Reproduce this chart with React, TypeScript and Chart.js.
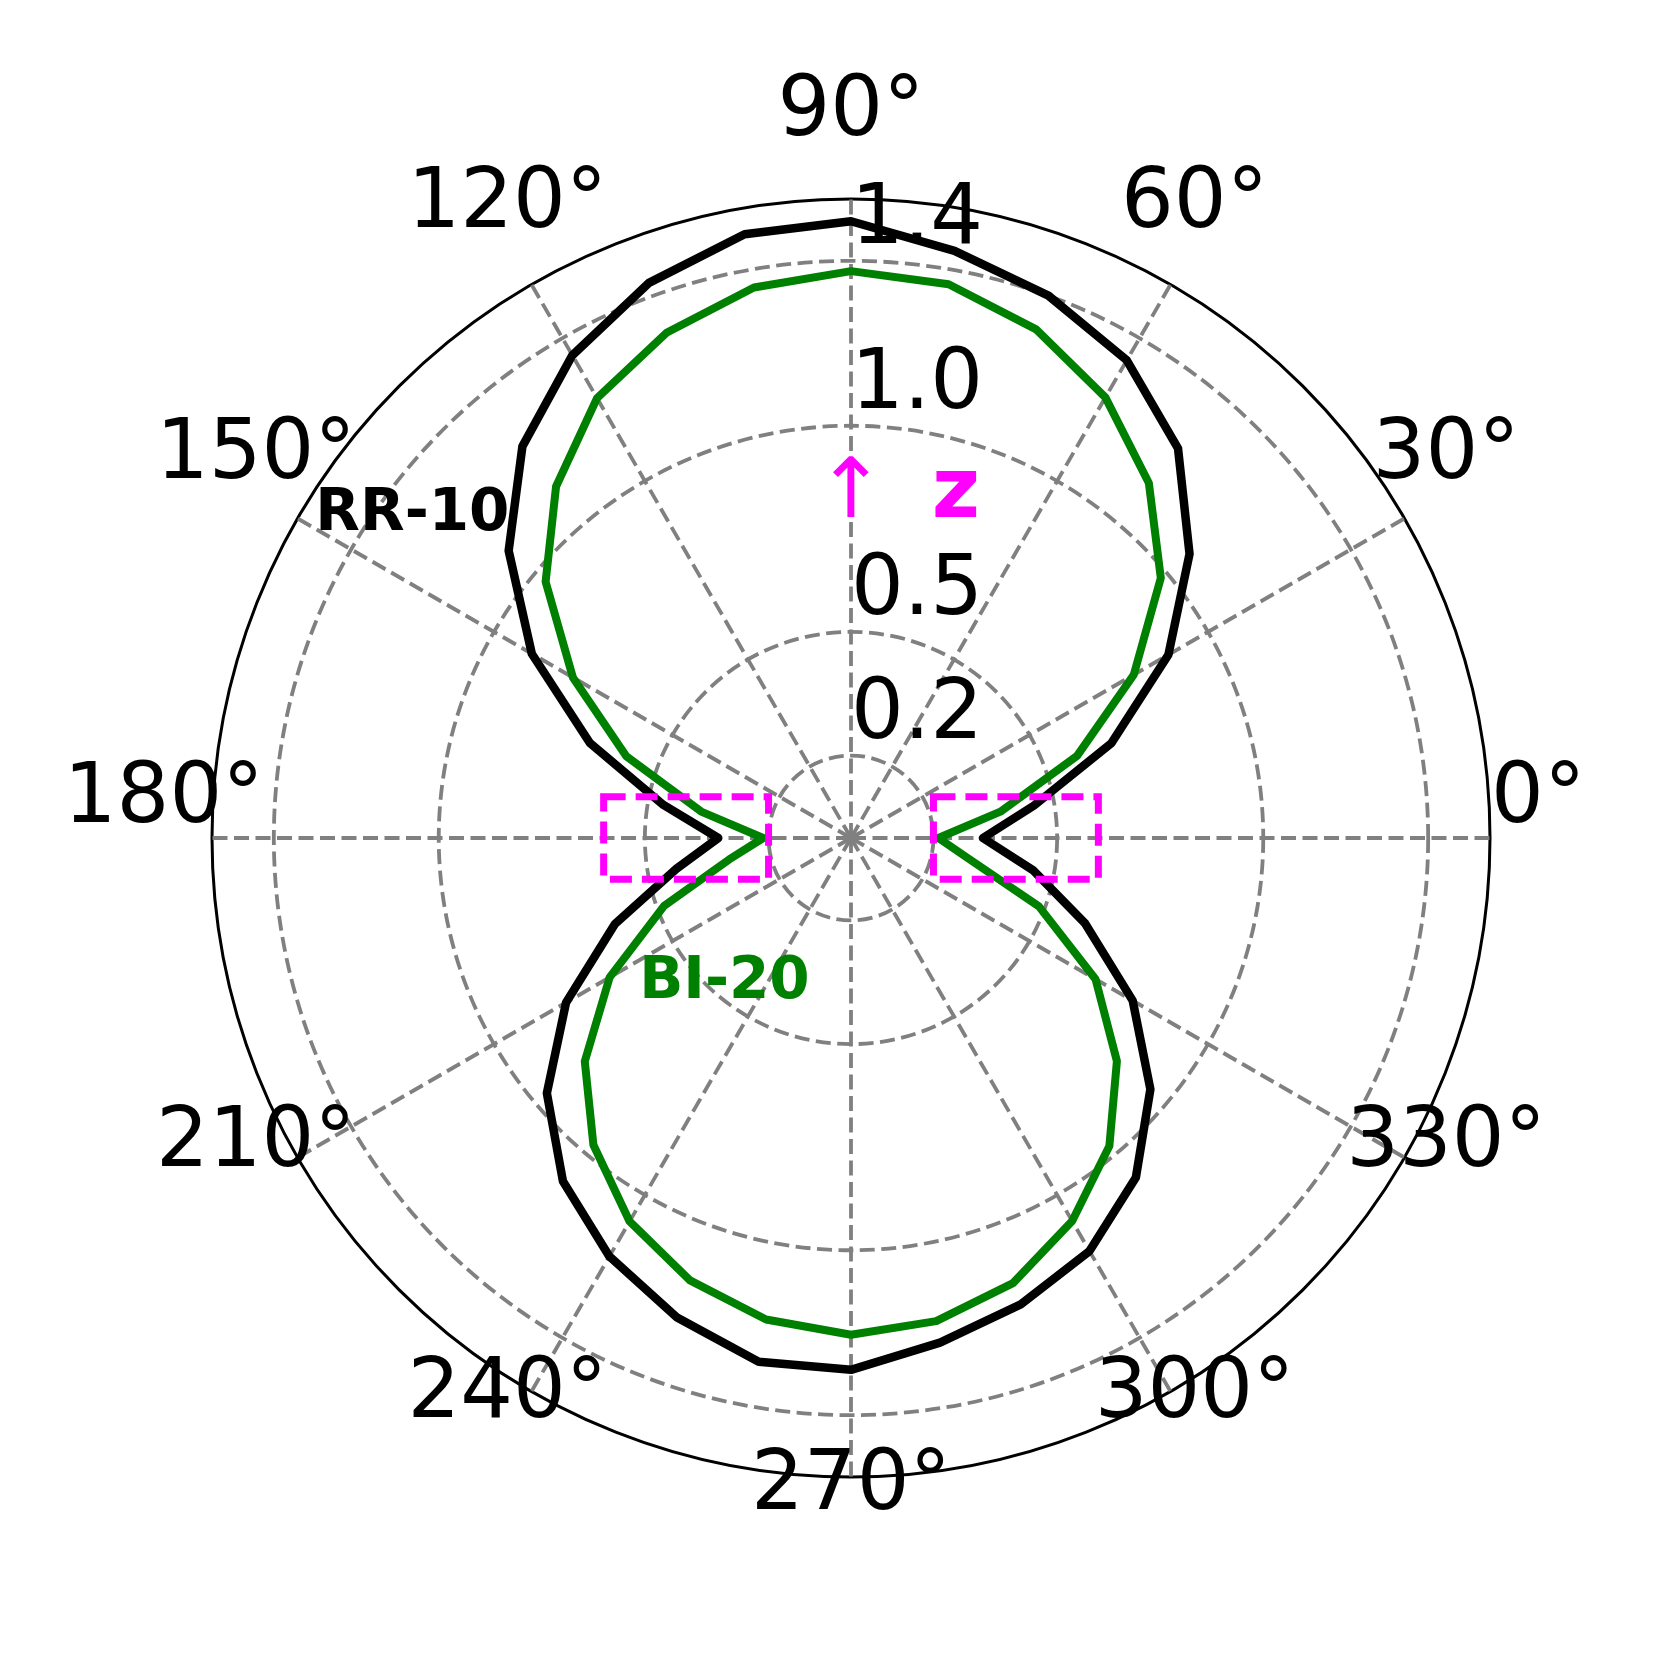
import React, { useEffect, useRef } from 'react';
import { Chart, registerables } from 'chart.js';

Chart.register(...registerables);

// Polar angles (degrees, counter-clockwise from the right) at which each series is sampled
const ANGLES = [0, 10, 20, 30, 40, 50, 60, 70, 80, 90, 100, 110, 120, 130, 140, 150, 160, 170,
  180, 190, 200, 210, 220, 230, 240, 250, 260, 270, 280, 290, 300, 310, 320, 330, 340, 350];

// RR-10 (black) radius per angle
const RR10 = [0.32, 0.45, 0.672, 0.889, 1.072, 1.234, 1.338, 1.4, 1.446, 1.496, 1.487, 1.433,
  1.352, 1.24, 1.084, 0.894, 0.674, 0.462, 0.322, 0.43, 0.609, 0.798, 0.963, 1.087,
  1.172, 1.237, 1.29, 1.29, 1.243, 1.204, 1.157, 1.075, 0.948, 0.789, 0.604, 0.448];

// BI-20 (green) radius per angle
const BI20 = [0.212, 0.368, 0.584, 0.792, 0.981, 1.124, 1.234, 1.313, 1.364, 1.375, 1.356, 1.305,
  1.232, 1.113, 0.967, 0.779, 0.58, 0.369, 0.213, 0.3, 0.483, 0.676, 0.843, 0.972,
  1.074, 1.142, 1.186, 1.205, 1.19, 1.149, 1.073, 0.975, 0.842, 0.685, 0.485, 0.29];

const RADIAL_TICKS = [0.2, 0.5, 1.0, 1.4];
const RADIAL_TICK_LABELS = ['0.2', '0.5', '1.0', '1.4'];
const R_MAX = 1.55;
const ANGLE_TICKS = [0, 30, 60, 90, 120, 150, 180, 210, 240, 270, 300, 330];
const ANGLE_TICK_LABELS = ANGLE_TICKS.map((a) => `${a}°`);

// Highlighted regions (cartesian, in radial units)
const BOX_X = [0.2, 0.6];
const BOX_Y = [-0.1, 0.1];

const GRAY = '#808080';
const GREEN = '#008000';
const MAGENTA = '#ff00ff';
const FONT = '"DejaVu Sans", "Liberation Sans", sans-serif';

// Radar goes clockwise starting at the top: index i -> angle 90 - 10 i
const ORDER = ANGLES.map((_, i) => (90 - 10 * i + 360) % 360);
const LABELS = ORDER.map((a) => String(a));
const pick = (arr: number[]) => ORDER.map((a) => arr[ANGLES.indexOf(a)]);

const overlayPlugin = {
  id: 'overlay',
  afterDraw(chart: any) {
    const s = chart.scales.r;
    const ctx = chart.ctx;
    const xc = s.xCenter;
    const yc = s.yCenter;
    const u = s.getDistanceFromCenterForValue(1);
    ctx.save();

    // magenta dashed boxes
    ctx.strokeStyle = MAGENTA;
    ctx.lineWidth = 7;
    ctx.setLineDash([22, 10]);
    [1, -1].forEach((side) => {
      const x0 = xc + side * BOX_X[0] * u;
      const x1 = xc + side * BOX_X[1] * u;
      const y0 = yc - BOX_Y[1] * u;
      const y1 = yc - BOX_Y[0] * u;
      ctx.strokeRect(Math.min(x0, x1), y0, Math.abs(x1 - x0), y1 - y0);
    });
    ctx.setLineDash([]);

    // radial tick labels
    ctx.fillStyle = '#000';
    ctx.font = `83px ${FONT}`;
    ctx.textAlign = 'left';
    ctx.textBaseline = 'alphabetic';
    RADIAL_TICKS.forEach((v, i) => {
      const d = s.getDistanceFromCenterForValue(v);
      ctx.fillText(RADIAL_TICK_LABELS[i], xc, yc - d - 18);
    });

    // angle labels
    ctx.textAlign = 'center';
    const lr = 1.667 * u;
    const lift = 0.112 * u;
    ANGLE_TICKS.forEach((a, i) => {
      const t = (a * Math.PI) / 180;
      const cx = xc + lr * Math.cos(t);
      const cy = yc - lr * Math.sin(t) - lift;
      ctx.fillText(ANGLE_TICK_LABELS[i], cx, cy + 0.3645 * 83);
    });

    // series annotations
    ctx.font = `bold 58px ${FONT}`;
    ctx.fillStyle = '#000';
    ctx.fillText('RR-10', xc - 1.064 * u, yc - 0.747 * u);
    ctx.fillStyle = GREEN;
    ctx.fillText('BI-20', xc - 0.307 * u, yc + 0.389 * u);

    // z-axis arrow
    ctx.fillStyle = MAGENTA;
    ctx.font = `83px ${FONT}`;
    ctx.textAlign = 'center';
    ctx.fillText('↑', xc, yc - 0.778 * u);
    ctx.font = `bold 83px ${FONT}`;
    ctx.textAlign = 'left';
    ctx.fillText('z', xc + 0.196 * u, yc - 0.778 * u);

    ctx.restore();
  },
};

export default function App() {
  const ref = useRef<HTMLCanvasElement | null>(null);

  useEffect(() => {
    if (!ref.current) return;
    Chart.defaults.font.family = FONT;
    const chart = new Chart(ref.current, {
      type: 'radar',
      data: {
        labels: LABELS,
        datasets: [
          {
            label: 'BI-20',
            data: pick(BI20),
            borderColor: GREEN,
            borderWidth: 8,
            fill: false,
            pointRadius: 0,
            tension: 0,
            borderJoinStyle: 'round',
            order: 0,
          },
          {
            label: 'RR-10',
            data: pick(RR10),
            borderColor: '#000',
            borderWidth: 8.5,
            fill: false,
            pointRadius: 0,
            tension: 0,
            borderJoinStyle: 'round',
            order: 1,
          },
        ],
      },
      options: {
        animation: false,
        responsive: false,
        devicePixelRatio: 1,
        layout: { padding: { left: 212, right: 171, top: 199, bottom: 184 } },
        plugins: { legend: { display: false }, tooltip: { enabled: false } },
        scales: {
          r: {
            type: 'radialLinear',
            min: 0,
            max: R_MAX,
            startAngle: 0,
            afterBuildTicks: (sc: any) => {
              sc.ticks = [0, ...RADIAL_TICKS, R_MAX].map((v) => ({ value: v }));
            },
            ticks: { display: false },
            pointLabels: { display: false },
            grid: {
              circular: true,
              color: (c: any) => (c.tick && c.tick.value >= R_MAX ? '#000' : GRAY),
              lineWidth: (c: any) => (c.tick && c.tick.value >= R_MAX ? 3 : 3.8),
            },
            border: {
              dash: (c: any) => (c.tick && c.tick.value >= R_MAX ? [] : [15, 6.5]),
            },
            angleLines: {
              color: (c: any) => (c.index % 3 === 0 ? GRAY : 'rgba(0,0,0,0)'),
              lineWidth: (c: any) => (c.index % 3 === 0 ? 3.8 : 0),
              borderDash: [15, 6.5],
            },
          },
        },
      } as any,
      plugins: [overlayPlugin],
    });
    return () => chart.destroy();
  }, []);

  return (
    <div style={{ position: 'fixed', left: 0, top: 0, width: 1661, height: 1661, background: '#fff', overflow: 'hidden' }}>
      <canvas ref={ref} width={1661} height={1661} style={{ display: 'block', width: 1661, height: 1661 }} />
    </div>
  );
}
